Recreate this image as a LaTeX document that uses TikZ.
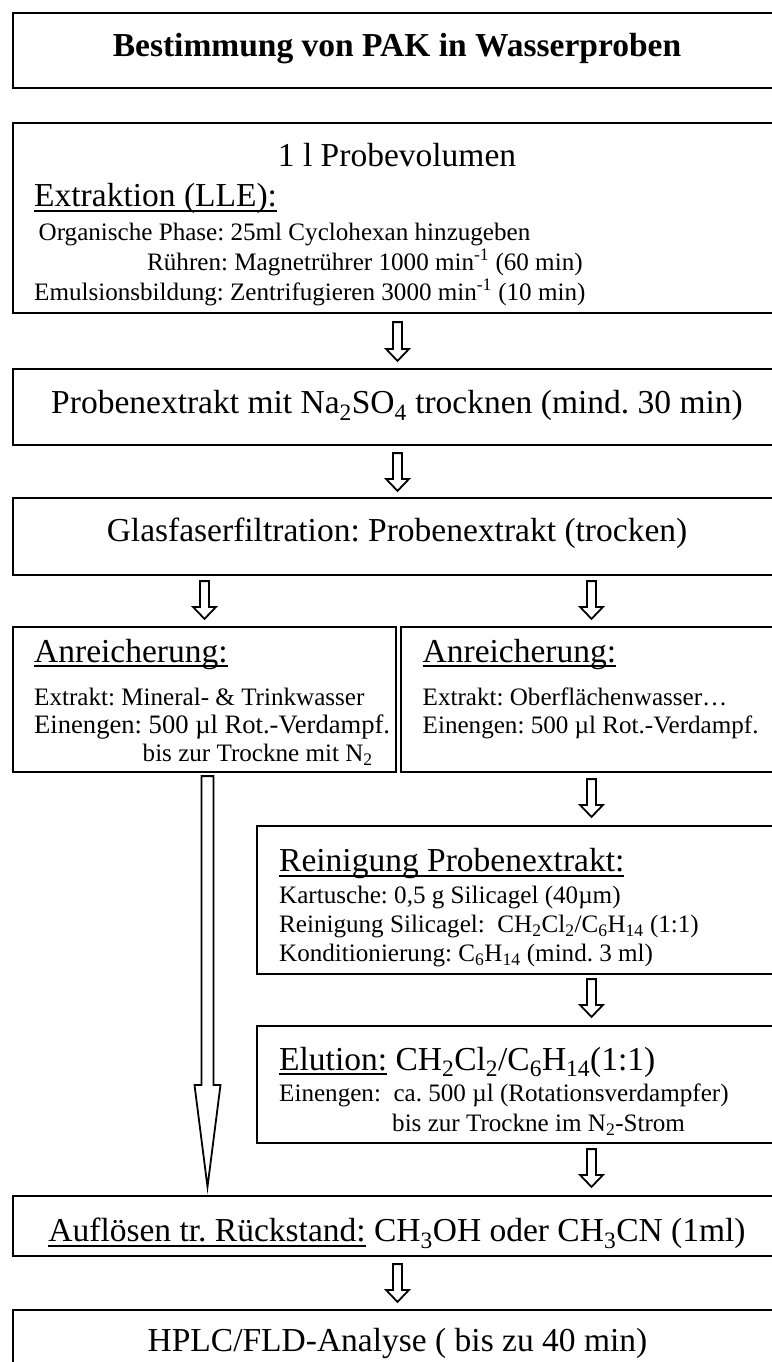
\documentclass[tikz,border=0pt]{standalone}
\usepackage{fontspec}
\setmainfont{Liberation Serif}
\usetikzlibrary{calc}
\frenchspacing
\newcommand\myul[1]{\setbox0=\hbox{#1}\rlap{\rule[-0.15em]{\wd0}{0.05em}}\box0\relax}
\newcommand\sbs[1]{\textsubscript{#1}}
\tikzset{
  box/.style={draw, line width=2.2pt, rectangle, inner sep=0pt},
  bigtxt/.style={font=\fontsize{33.5}{40}\selectfont, inner sep=0pt},
  smalltxt/.style={font=\fontsize{25.1}{30}\selectfont, inner sep=0pt},
  midtxt/.style={font=\fontsize{26.6}{32}\selectfont, inner sep=0pt},
  lft/.style={anchor=base west},
  ctr/.style={anchor=base},
  barrow/.style n args={3}{draw, line width=1.8pt, fill=white, line join=miter,
    to path={let \p1=(\tikztostart), \p2=(\tikztotarget) in
      (\x1-#1,\y1) -- (\x1-#1,\y2+#3) -- (\x1-#2,\y2+#3) -- (\x1,\y2)
      -- (\x1+#2,\y2+#3) -- (\x1+#1,\y2+#3) -- (\x1+#1,\y1) -- cycle}},
  stdarrow/.style={barrow={4.5pt}{11.5pt}{12pt}},
  longarrow/.style={barrow={6pt}{13pt}{102pt}}
}
\begin{document}
\frenchspacing
\begin{tikzpicture}[x=1pt,y=-1pt]
\useasboundingbox[fill=white] (0,0) rectangle (771,1362);

% boxes
\node[box, minimum width=769, minimum height=75] (b1) at (397.5,50.5) {};
\node[box, minimum width=769, minimum height=190] (b2) at (397.5,218) {};
\node[box, minimum width=769, minimum height=76] (b3) at (397.5,407) {};
\node[box, minimum width=769, minimum height=77] (b4) at (397.5,536.5) {};
\node[box, minimum width=383, minimum height=145] (bl) at (204.5,699.5) {};
\node[box, minimum width=381, minimum height=145] (br) at (591.5,699.5) {};
\node[box, minimum width=525, minimum height=148] (rein) at (519.5,900) {};
\node[box, minimum width=525, minimum height=117] (elut) at (519.5,1084.5) {};
\node[box, minimum width=769, minimum height=60] (aufl) at (397.5,1226) {};
\node[box, minimum width=769, minimum height=90] (hplc) at (397.5,1355) {};

% texts
\node[bigtxt, ctr, font=\fontsize{33.5}{40}\selectfont\bfseries] (t1) at (397,56.7) {Bestimmung von PAK in Wasserproben};
\node[bigtxt, ctr] (t2a) at (397,166.7) {1 l Probevolumen};
\node[bigtxt, lft] (t2b) at (34,206.7) {\myul{Extraktion (LLE):}};
\node[smalltxt, lft] (t2c) at (38.5,240) {Organische Phase: 25ml Cyclohexan hinzugeben};
\node[smalltxt, lft] (t2d) at (147,270) {Rühren: Magnetrührer 1000 min\textsuperscript{-1} (60 min)};
\node[smalltxt, lft] (t2e) at (34,300) {Emulsionsbildung: Zentrifugieren 3000 min\textsuperscript{-1} (10 min)};
\node[bigtxt, ctr] (t3) at (397,413.3) {Probenextrakt mit Na\sbs{2}SO\sbs{4} trocknen (mind. 30 min)};
\node[bigtxt, ctr] (t4) at (397,541.7) {Glasfaserfiltration: Probenextrakt (trocken)};
\node[bigtxt, lft] (tla) at (34,662) {\myul{Anreicherung:}};
\node[smalltxt, lft] (tlb) at (34,705) {Extrakt: Mineral- \& Trinkwasser};
\node[midtxt, lft] (tlc) at (34,733.5) {Einengen: 500 µl Rot.-Verdampf.};
\node[smalltxt, lft] (tld) at (142.5,761.7) {bis zur Trockne mit N\sbs{2}};
\node[bigtxt, lft] (tra) at (422.5,662) {\myul{Anreicherung:}};
\node[smalltxt, lft] (trb) at (422.5,705) {Extrakt: Oberflächenwasser…};
\node[smalltxt, lft] (trc) at (422.5,733.5) {Einengen: 500 µl Rot.-Verdampf.};
\node[bigtxt, lft] (tpa) at (279,871.7) {\myul{Reinigung Probenextrakt:}};
\node[smalltxt, lft] (tpb) at (279,903.3) {Kartusche: 0,5 g Silicagel (40µm)};
\node[smalltxt, lft] (tpc) at (279,932.7) {Reinigung Silicagel:\ \ CH\sbs{2}Cl\sbs{2}/C\sbs{6}H\sbs{14} (1:1)};
\node[smalltxt, lft] (tpd) at (279,961.7) {Konditionierung: C\sbs{6}H\sbs{14} (mind. 3 ml)};
\node[bigtxt, lft] (tea) at (279,1070) {\myul{Elution:} CH\sbs{2}Cl\sbs{2}/C\sbs{6}H\sbs{14}(1:1)};
\node[smalltxt, lft] (teb) at (279,1101.7) {Einengen:\ \ ca. 500 µl (Rotationsverdampfer)};
\node[smalltxt, lft] (tec) at (392,1131.7) {bis zur Trockne im N\sbs{2}-Strom};
\node[bigtxt, ctr] (ta) at (397,1241.7) {\myul{Auflösen tr. Rückstand:} CH\sbs{3}OH oder CH\sbs{3}CN (1ml)};
\node[bigtxt, ctr] (th) at (397.5,1351.7) {HPLC/FLD-Analyse ( bis zu 40 min)};

% arrows
\draw[stdarrow] ($(b2.south)+(0,8)$) to ($(b3.north)+(0,-7)$);
\draw[stdarrow] ($(b3.south)+(0,7)$) to ($(b4.north)+(0,-6)$);
\draw[stdarrow] ($(b4.south -| bl.north)+(0,5)$) to ($(bl.north)+(0,-7)$);
\draw[stdarrow] ($(b4.south -| br.north)+(0,5)$) to ($(br.north)+(0,-7)$);
\draw[stdarrow] ($(br.south)+(0,6)$) to ($(rein.north -| br.south)+(0,-8)$);
\draw[stdarrow] ($(rein.south -| br.south)+(0,4)$) to ($(elut.north -| br.south)+(0,-8)$);
\draw[stdarrow] ($(elut.south -| br.south)+(0,5)$) to ($(aufl.north -| br.south)+(0,-8)$);
\draw[stdarrow] ($(aufl.south)+(0,7)$) to ($(hplc.north)+(0,-7)$);
\draw[longarrow] ($(bl.south)+(3,3)$) to ($(aufl.north -| bl.south)+(3,-8)$);
\end{tikzpicture}
\end{document}
